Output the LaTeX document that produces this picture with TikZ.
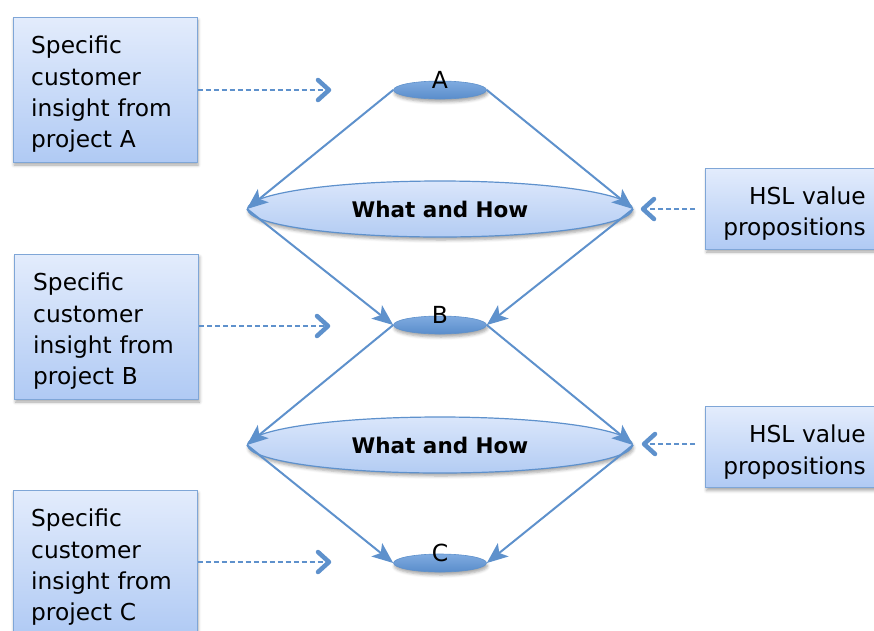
\documentclass[tikz,border=0pt]{standalone}
\usepackage{fontspec}
\setmainfont{DejaVu Sans}
\usetikzlibrary{arrows.meta,shapes.geometric,shadows.blur}
\definecolor{boxtop}{HTML}{E3ECFC}
\definecolor{boxbot}{HTML}{B0CAF4}
\definecolor{boxline}{HTML}{7FA6D7}
\definecolor{lineblue}{HTML}{5E91CC}
\definecolor{elltop}{HTML}{7FABE0}
\definecolor{ellbot}{HTML}{5A8DCB}
\definecolor{bigtop}{HTML}{DAE6FB}
\definecolor{bigbot}{HTML}{B3CCF3}
\begin{document}
\begin{tikzpicture}[x=1pt,y=-1pt,
  infobox/.style={draw=boxline, line width=1pt, top color=boxtop, bottom color=boxbot,
    blur shadow={shadow xshift=1pt, shadow yshift=-3pt, shadow blur radius=3pt, shadow opacity=35},
    inner sep=0pt},
  leftbox/.style={infobox, minimum width=184pt, minimum height=145pt},
  hslbox/.style={infobox, anchor=west, minimum width=190pt, minimum height=81pt},
  boxtext/.style={font=\fontsize{23.3}{31.3}\selectfont, inner sep=0pt},
  lefttext/.style={boxtext, anchor=west, text width=150pt, align=left},
  hsltext/.style={boxtext, anchor=east, text width=150pt, align=right},
  smallell/.style={ellipse, draw=lineblue, line width=0.6pt, top color=elltop, bottom color=ellbot,
    minimum width=93pt, minimum height=18pt, inner sep=0pt,
    blur shadow={shadow xshift=1pt, shadow yshift=-3pt, shadow blur radius=3pt, shadow opacity=35}},
  bigell/.style={ellipse, draw=lineblue, line width=1.2pt, top color=bigtop, bottom color=bigbot,
    minimum width=385pt, minimum height=56pt, inner sep=0pt,
    font=\fontsize{21.5}{26}\selectfont\bfseries,
    blur shadow={shadow xshift=1pt, shadow yshift=-3pt, shadow blur radius=3pt, shadow opacity=35}},
  conn/.style={draw=lineblue, line width=2pt, -{Stealth[length=21pt,width=17pt,inset=5pt]}},
  dashline/.style={draw=lineblue, line width=2pt, dash pattern=on 5pt off 3pt},
  chev/.style={draw=lineblue, line width=4.5pt, line cap=round, line join=round},
  lettr/.style={font=\fontsize{23.5}{26}\selectfont, anchor=base, inner sep=0pt}
]
\useasboundingbox (0,0) rectangle (874,630);
\clip (0,0) rectangle (874,630);

% left boxes
\node[leftbox] (boxA) at (105,89.5) {};
\node[leftbox] (boxB) at (106.5,326.5) {};
\node[leftbox] (boxC) at (105,562.5) {};
\node[lefttext] (tA) at (31,94.5) {Specific\\customer\\insight from\\project A};
\node[lefttext] (tB) at (33,331.5) {Specific\\customer\\insight from\\project B};
\node[lefttext] (tC) at (31,567.5) {Specific\\customer\\insight from\\project C};

% right boxes
\node[hslbox] (hsl1) at (705,208.5) {};
\node[hslbox] (hsl2) at (705,447) {};
\node[hsltext] (th1t) at (866,213.5) {HSL value\\propositions};
\node[hsltext] (th2t) at (866,452) {HSL value\\propositions};

% ellipses
\node[bigell] (w1) at (440,209) {What and How};
\node[bigell] (w2) at (440,445) {What and How};
\node[smallell] (a) at (440,90) {};
\node[smallell] (b) at (440,325) {};
\node[smallell] (c) at (440,563) {};
\node[lettr] (la) at ([yshift=2pt]a.center) {A};
\node[lettr] (lb) at ([yshift=2pt]b.center) {B};
\node[lettr] (lc) at ([yshift=2pt]c.center) {C};

% connectors
\draw[conn] (a.west) -- (w1.west);
\draw[conn] (a.east) -- (w1.east);
\draw[conn] (w1.west) -- (b.west);
\draw[conn] (w1.east) -- (b.east);
\draw[conn] (b.west) -- (w2.west);
\draw[conn] (b.east) -- (w2.east);
\draw[conn] (w2.west) -- (c.west);
\draw[conn] (w2.east) -- (c.east);

% dashed inputs
\coordinate (ta) at (329,90);
\coordinate (tb) at (328,326);
\coordinate (tc) at (329,562);
\coordinate (th1) at (643,209);
\coordinate (th2) at (644,444);
\draw[dashline] (boxA.east |- ta) -- ([xshift=-3pt]ta);
\draw[dashline] (boxB.east |- tb) -- ([xshift=-3pt]tb);
\draw[dashline] (boxC.east |- tc) -- ([xshift=-3pt]tc);
\draw[dashline, shorten <=10pt] (hsl1.west |- th1) -- ([xshift=3pt]th1);
\draw[dashline, shorten <=10pt] (hsl2.west |- th2) -- ([xshift=3pt]th2);
\draw[chev] ([xshift=-11pt,yshift=10pt]ta) -- (ta) -- ([xshift=-11pt,yshift=-10pt]ta);
\draw[chev] ([xshift=-11pt,yshift=10pt]tb) -- (tb) -- ([xshift=-11pt,yshift=-10pt]tb);
\draw[chev] ([xshift=-11pt,yshift=10pt]tc) -- (tc) -- ([xshift=-11pt,yshift=-10pt]tc);
\draw[chev] ([xshift=11pt,yshift=10pt]th1) -- (th1) -- ([xshift=11pt,yshift=-10pt]th1);
\draw[chev] ([xshift=11pt,yshift=10pt]th2) -- (th2) -- ([xshift=11pt,yshift=-10pt]th2);
\end{tikzpicture}
\end{document}
